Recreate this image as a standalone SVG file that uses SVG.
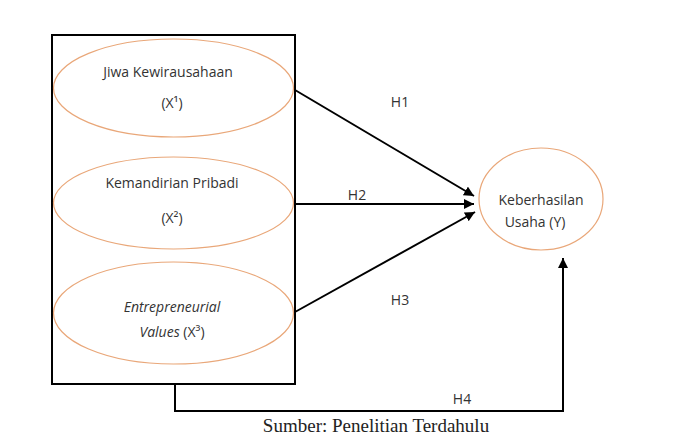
<svg xmlns="http://www.w3.org/2000/svg" width="700" height="439" viewBox="0 0 700 439">
<defs>
<marker id="ah" viewBox="0 0 10 10" refX="10" refY="5" markerWidth="10" markerHeight="10" markerUnits="userSpaceOnUse" orient="auto">
<path d="M0,0 L10,5 L0,10 z" fill="#000"/>
</marker>
</defs>
<style>
.ell{fill:#fff;stroke:#E9A779;stroke-width:1.2}
.t{font-family:"Open Sans","Liberation Sans",sans-serif;font-size:14px;fill:#333;text-anchor:middle}
.h{font-family:"Open Sans","Liberation Sans",sans-serif;font-size:14px;fill:#333;text-anchor:middle}
.con{stroke:#000;stroke-width:2;fill:none}
</style>
<rect width="700" height="439" fill="#fff"/>
<rect id="frame" x="52" y="35" width="243" height="349" fill="#fff" stroke="#000" stroke-width="2"/>
<g id="x1">
<ellipse class="ell" cx="173.5" cy="88" rx="120" ry="49"/>
<text class="t" x="168" y="77">Jiwa Kewirausahaan</text>
<text class="t" x="172" y="108">(X¹)</text>
</g>
<g id="x2">
<ellipse class="ell" cx="173.5" cy="203" rx="120" ry="46"/>
<text class="t" x="172" y="188">Kemandirian Pribadi</text>
<text class="t" x="172" y="223">(X²)</text>
</g>
<g id="x3">
<ellipse class="ell" cx="173.5" cy="313" rx="120" ry="51"/>
<text class="t" x="172" y="312" font-style="italic">Entrepreneurial</text>
<text class="t" x="172" y="337"><tspan font-style="italic">Values</tspan> (X³)</text>
</g>
<g id="y">
<ellipse class="ell" cx="541" cy="199" rx="62" ry="51"/>
<text class="t" x="541" y="205" font-size="15">Keberhasilan</text>
<text class="t" x="535" y="227" font-size="15">Usaha (Y)</text>
</g>
<g id="connectors">
<line class="con" x1="295" y1="90" x2="474" y2="196" marker-end="url(#ah)"/>
<line class="con" x1="295" y1="204" x2="474" y2="204" marker-end="url(#ah)"/>
<line class="con" x1="295" y1="312" x2="475" y2="212" marker-end="url(#ah)"/>
<polyline class="con" points="175,384 175,411 563,411 563,258" marker-end="url(#ah)"/>
<text class="h" x="400" y="107">H1</text>
<text class="h" x="357" y="200">H2</text>
<text class="h" x="400" y="305">H3</text>
<text class="h" x="462" y="404">H4</text>
</g>
<text x="376" y="432" font-family="Liberation Serif,serif" font-size="19" fill="#222" text-anchor="middle">Sumber: Penelitian Terdahulu</text>
</svg>
